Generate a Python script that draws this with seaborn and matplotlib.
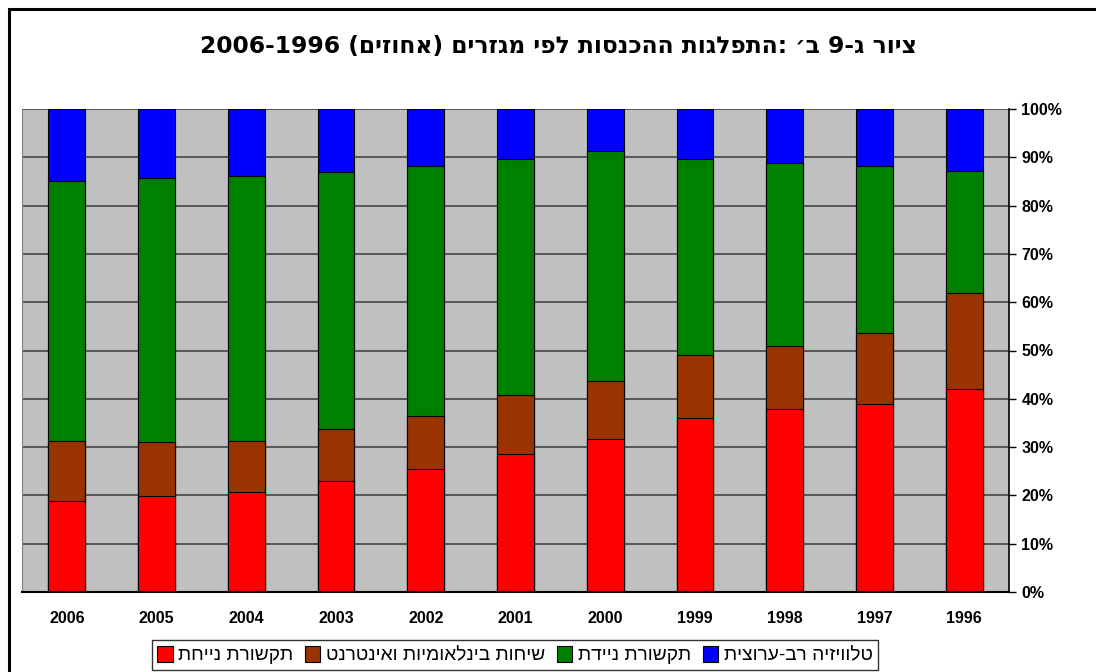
import re
import numpy as np
import pandas as pd
import matplotlib
matplotlib.use("Agg")
import matplotlib.pyplot as plt
import seaborn as sns
from matplotlib.patches import Patch, Rectangle

years = ["2006", "2005", "2004", "2003", "2002", "2001", "2000", "1999", "1998", "1997", "1996"]
fixed_line = [18.9, 19.8, 20.8, 23.0, 25.4, 28.6, 31.6, 36.0, 37.9, 39.0, 42.1]
intl_internet = [12.3, 11.2, 10.4, 10.8, 11.1, 12.1, 12.1, 13.1, 13.0, 14.7, 19.8]
mobile = [53.9, 54.8, 55.0, 53.2, 51.7, 49.0, 47.6, 40.6, 37.9, 34.6, 25.2]
multichannel_tv = [14.9, 14.2, 13.8, 13.0, 11.8, 10.3, 8.7, 10.3, 11.2, 11.7, 12.9]

series_names = ["תקשורת נייחת", "שיחות בינלאומיות ואינטרנט", "תקשורת ניידת", "טלוויזיה רב-ערוצית"]
colors = ["#FF0000", "#993300", "#008000", "#0000FF"]
title = "ציור ג-9 ב׳ :התפלגות ההכנסות לפי מגזרים (אחוזים) 2006-1996"


def visual(s):
    # matplotlib has no bidi, so flip the hebrew and keep digit runs in order
    r = s[::-1]
    r = re.sub(r"[0-9]+(?:-[0-9]+)*", lambda m: m.group(0)[::-1], r)
    return r.translate(str.maketrans("()", ")("))


df = pd.DataFrame({"year": years})
for name, vals in zip(series_names, [fixed_line, intl_internet, mobile, multichannel_tv]):
    df[name] = vals
# normalise to 100% and stack
totals = df[series_names].sum(axis=1)
for name in series_names:
    df[name] = df[name] / totals * 100
cum = df[series_names].cumsum(axis=1)

sns.set_style("white")
plt.rcParams["font.family"] = ["Liberation Sans", "DejaVu Sans"]
plt.rcParams["text.color"] = "black"
plt.rcParams["xtick.color"] = "black"
plt.rcParams["ytick.color"] = "black"

fig = plt.figure(figsize=(10.96, 6.72), dpi=100)
ax = fig.add_axes([22 / 1096, 80 / 672, 987 / 1096, 483 / 672])
ax.set_facecolor("#C0C0C0")
ax.set_axisbelow(True)

# draw from the top of the stack down so each layer covers the one above
for name, col in reversed(list(zip(series_names, colors))):
    sns.barplot(x=df["year"], y=cum[name], order=years, color=col, width=0.41,
                edgecolor="black", linewidth=0.8, saturation=1, ax=ax)

ax.set_ylim(0, 100)
ax.set_xlim(-0.5, len(years) - 0.5)
ax.set_xlabel("")
ax.set_ylabel("")
ax.yaxis.tick_right()
ax.set_yticks(np.arange(0, 101, 10))
ax.set_yticklabels([f"{v}%" for v in range(0, 101, 10)], fontsize=11.5, fontweight="bold")
ax.tick_params(axis="y", direction="out", length=5, width=1, color="black", pad=4)
ax.grid(axis="y", color="#3a3a3a", linewidth=1.1)
ax.grid(axis="x", visible=False)

ax.set_xticks(range(len(years)))
ax.set_xticklabels(years, fontsize=11.5, fontweight="bold")
ax.tick_params(axis="x", length=0, pad=14)
ax.set_xticks(np.arange(-0.5, len(years)), minor=True)
ax.tick_params(axis="x", which="minor", direction="out", length=5, width=1.5, color="black")

ax.spines["top"].set_visible(False)
ax.spines["left"].set_color("#808080")
ax.spines["bottom"].set_color("black")
ax.spines["bottom"].set_linewidth(1.5)
ax.spines["right"].set_color("black")
ax.spines["right"].set_linewidth(1.2)

fig.text(558 / 1096, 1 - 46 / 672, visual(title), ha="center", va="center",
         fontsize=16.8, fontweight="heavy", family=["DejaVu Sans"], color="black")

handles = [Patch(facecolor=c, edgecolor="black", linewidth=0.8) for c in colors]
leg = fig.legend(handles, [visual(n) for n in series_names], ncol=4, loc="upper center",
                 bbox_to_anchor=(515 / 1096, 1 - 640 / 672), borderaxespad=0, frameon=True,
                 fancybox=False, fontsize=13.8, handlelength=0.8, handleheight=0.9,
                 handletextpad=0.3, columnspacing=0.6, borderpad=0.3)
leg.get_frame().set_edgecolor("black")
leg.get_frame().set_linewidth(1)

# outer chart border (left and top edges are the only ones inside the picture)
fig.patches.append(Rectangle((9 / 1096, -0.1), 1.2, 1 - 9 / 672 + 0.1, transform=fig.transFigure,
                             fill=False, edgecolor="black", linewidth=2.2))

fig.savefig("out.png", dpi=100)
